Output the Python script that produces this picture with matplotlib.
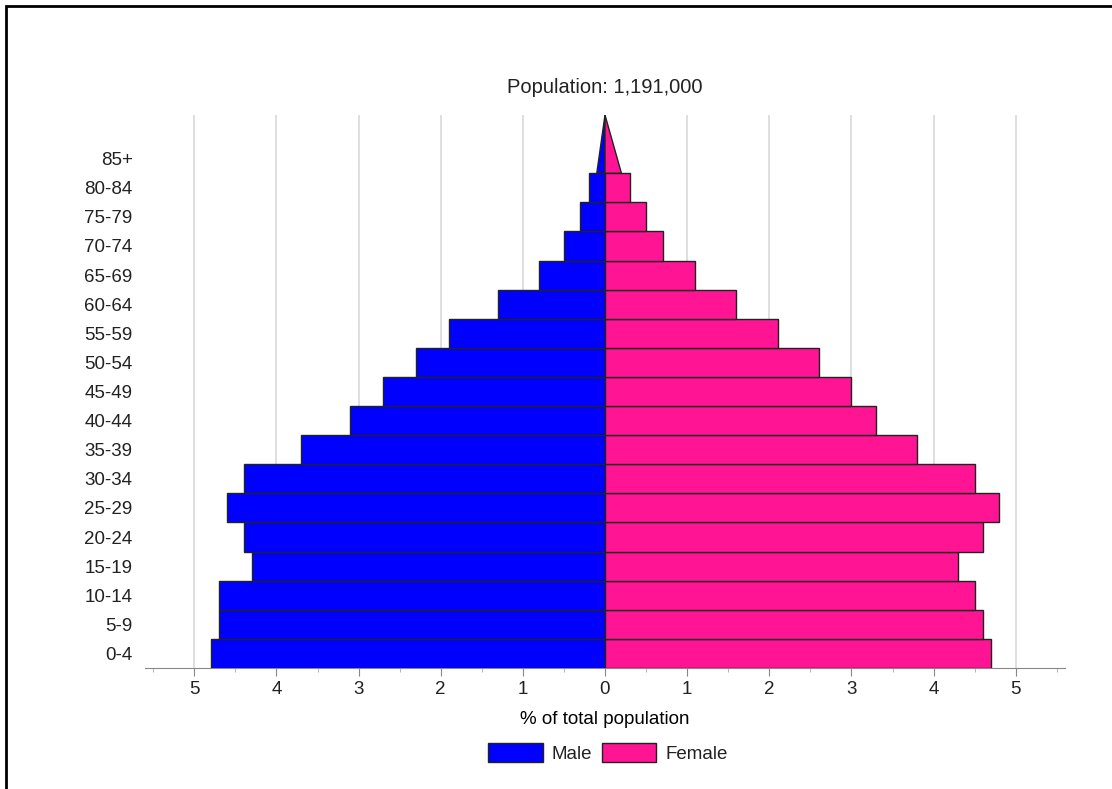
import matplotlib.pyplot as plt
import matplotlib.patches as mpatches
import numpy as np

plt.rcParams['font.family'] = ['Liberation Sans', 'DejaVu Sans']
plt.rcParams['text.color'] = '#222222'
plt.rcParams['xtick.labelcolor'] = '#222222'
plt.rcParams['ytick.labelcolor'] = '#222222'

# Data (% of total population)
age_groups = ["0-4", "5-9", "10-14", "15-19", "20-24", "25-29", "30-34", "35-39",
              "40-44", "45-49", "50-54", "55-59", "60-64", "65-69", "70-74",
              "75-79", "80-84", "85+"]
male = [4.8, 4.7, 4.7, 4.3, 4.4, 4.6, 4.4, 3.7, 3.1, 2.7, 2.3, 1.9, 1.3, 0.8,
        0.5, 0.3, 0.2, 0.1]
female = [4.7, 4.6, 4.5, 4.3, 4.6, 4.8, 4.5, 3.8, 3.3, 3.0, 2.6, 2.1, 1.6, 1.1,
          0.7, 0.5, 0.3, 0.2]
total_pop = "1,191,000"

male_color = "#0000ff"
female_color = "#ff1493"
fs = 13.5

fig = plt.figure(figsize=(11.12, 7.89), dpi=100)
W, H = 1112, 789
ax = fig.add_axes([145 / W, 1 - 668 / H, 920 / W, (668 - 115) / H])

y = np.arange(len(age_groups))
n = len(age_groups) - 1
# all groups except the open-ended one as bars
ax.barh(y[:n], -np.array(male[:n]), height=1.0, color=male_color,
        edgecolor="#222222", linewidth=1, zorder=3)
ax.barh(y[:n], female[:n], height=1.0, color=female_color,
        edgecolor="#222222", linewidth=1, zorder=3)
# 85+ drawn as a spike
ax.add_patch(mpatches.Polygon([(-male[n], n - 0.5), (0, n + 1.5), (0, n - 0.5)],
                              closed=True, facecolor=male_color,
                              edgecolor="#222222", linewidth=1, zorder=3))
ax.add_patch(mpatches.Polygon([(0, n - 0.5), (0, n + 1.5), (female[n], n - 0.5)],
                              closed=True, facecolor=female_color,
                              edgecolor="#222222", linewidth=1, zorder=3))

ax.set_xlim(-5.6, 5.6)
ax.set_ylim(-0.5, n + 1.5)
ax.set_yticks(y)
ax.set_yticklabels(age_groups, fontsize=fs)
ax.tick_params(axis="y", length=0, pad=9)

ticks = np.arange(-5, 6)
ax.set_xticks(ticks)
ax.set_xticklabels([str(abs(t)) for t in ticks], fontsize=fs)
ax.set_xticks(np.arange(-5.5, 5.6, 0.5), minor=True)
ax.tick_params(axis="x", which="major", length=6, color="#888888", pad=3)
ax.tick_params(axis="x", which="minor", length=3, color="#aaaaaa")
ax.grid(axis="x", which="major", color="#d9d9d9", linewidth=1.2, zorder=0)

for s in ["left", "right", "top"]:
    ax.spines[s].set_visible(False)
ax.spines["bottom"].set_color("#888888")

ax.set_title(f"Population: {total_pop}", fontsize=14.5, pad=16)
ax.set_xlabel("% of total population", fontsize=fs, labelpad=10)

handles = [mpatches.Patch(facecolor=male_color, edgecolor="#222222", label="Male"),
           mpatches.Patch(facecolor=female_color, edgecolor="#222222", label="Female")]
fig.legend(handles=handles, loc="center", bbox_to_anchor=(608 / W, 1 - 753 / H),
           ncol=2, frameon=False, fontsize=fs, handlelength=2.9, handleheight=1.15,
           columnspacing=0.5, handletextpad=0.5)

# outer frame
fig.add_artist(mpatches.Rectangle((6 / W, -0.01), 1.02, 1 - 6 / H + 0.01,
                                  transform=fig.transFigure, fill=False,
                                  edgecolor="black", linewidth=2))

plt.savefig("out.png", dpi=100)
